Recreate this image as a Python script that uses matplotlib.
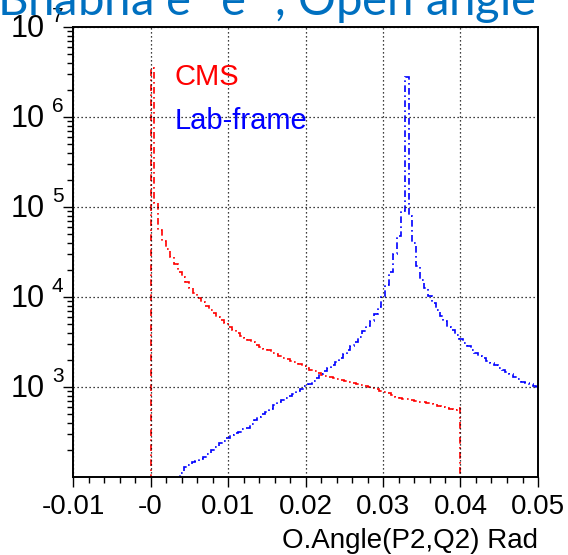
import numpy as np
import matplotlib
matplotlib.use("Agg")
import matplotlib.pyplot as plt
from matplotlib import transforms
from matplotlib.ticker import MultipleLocator, LogLocator, NullFormatter, FixedLocator

plt.rcParams['font.family'] = ['Liberation Sans', 'DejaVu Sans']

# ---- histogram data: opening angle between the two outgoing leptons ----
# CMS frame, bin width 0.0005 rad, from 0 to 0.04
cms_edges = np.arange(0.0, 0.04 + 1e-9, 0.0005)
cms_counts = [
    3.5e6, 1.1e5, 5.5e4, 4.2e4, 3.4e4, 2.8e4, 2.3e4, 1.9e4, 1.65e4, 1.45e4,
    1.26e4, 1.1e4, 9.8e3, 8.8e3, 8.0e3, 7.1e3, 6.6e3, 6.0e3, 5.5e3, 5.1e3,
    4.7e3, 4.3e3, 4.0e3, 3.7e3, 3.5e3, 3.3e3, 3.15e3, 2.95e3, 2.8e3, 2.65e3,
    2.55e3, 2.4e3, 2.3e3, 2.2e3, 2.1e3, 2.05e3, 1.95e3, 1.88e3, 1.8e3, 1.7e3,
    1.62e3, 1.55e3, 1.5e3, 1.42e3, 1.37e3, 1.33e3, 1.3e3, 1.27e3, 1.24e3, 1.2e3,
    1.17e3, 1.14e3, 1.11e3, 1.08e3, 1.05e3, 1.02e3, 1.0e3, 970, 940, 910,
    890, 850, 820, 780, 750, 740, 730, 720, 700, 690,
    680, 670, 660, 640, 615, 600, 580, 570, 560, 580,
]

# Lab frame, bin width 0.0005 rad, from 0.0033 to 0.0503
lab_edges = np.arange(0.0033, 0.0503 + 1e-9, 0.0005)
lab_counts = [
    98, 112, 128, 136, 146, 150, 160, 168, 182, 198,
    218, 240, 252, 268, 290, 312, 320, 340, 352, 385,
    425, 460, 495, 530, 565, 630, 680, 715, 750, 795,
    845, 895, 950, 1020, 1090, 1170, 1270, 1390, 1490, 1620,
    1760, 1900, 2100, 2300, 2600, 2850, 3150, 3600, 4200, 4800,
    5400, 6400, 7800, 1.0e4, 1.35e4, 1.9e4, 3.0e4, 4.8e4, 9.0e4, 2.8e6,
    8.0e4, 4.0e4, 2.2e4, 1.55e4, 1.25e4, 1.02e4, 8.5e3, 7.2e3, 6.2e3, 5.4e3,
    4.7e3, 4.3e3, 3.8e3, 3.4e3, 3.05e3, 2.85e3, 2.6e3, 2.4e3, 2.2e3, 2.1e3,
    1.95e3, 1.85e3, 1.75e3, 1.63e3, 1.55e3, 1.45e3, 1.38e3, 1.3e3, 1.22e3, 1.15e3,
    1.12e3, 1.08e3, 1.02e3, 1.0e3,
]

x_ticks = [-0.01, 0.0, 0.01, 0.02, 0.03, 0.04, 0.05]
x_tick_labels = ["-0.01", "-0", "0.01", "0.02", "0.03", "0.04", "0.05"]
y_exponents = [3, 4, 5, 6, 7]

W, H = 568, 555
fig = plt.figure(figsize=(W / 100, H / 100), dpi=100)
ax = fig.add_axes([73 / W, 1 - 477 / H, (538 - 73) / W, (477 - 27) / H])

dash = (0, (4.0, 2.0, 1.0, 2.0))
ax.stairs(cms_counts, cms_edges, baseline=1e-3, color='#ff0000', lw=1.2, linestyle=dash)
ax.stairs(lab_counts, lab_edges, baseline=None, color='#0000ff', lw=1.2, linestyle=dash)

ax.set_yscale('log')
ax.set_xlim(-0.01, 0.05)
ax.set_ylim(100, 1e7)

# grid
ax.grid(True, which='major', linestyle=(0, (1, 2.2)), color='black', lw=0.9)

# ticks
ax.xaxis.set_major_locator(FixedLocator(x_ticks))
ax.set_xticklabels(x_tick_labels)
ax.xaxis.set_minor_locator(MultipleLocator(0.002))
ax.yaxis.set_major_locator(FixedLocator([10.0 ** e for e in y_exponents]))
ax.yaxis.set_minor_locator(LogLocator(base=10, subs=np.arange(2, 10), numticks=20))
ax.yaxis.set_major_formatter(NullFormatter())
ax.yaxis.set_minor_formatter(NullFormatter())
ax.tick_params(which='both', direction='out', top=False, right=False, width=1.0, colors='black')
ax.tick_params(which='major', length=7)
ax.tick_params(which='minor', length=4)
ax.tick_params(axis='x', which='major', labelsize=20, pad=5)
for sp in ax.spines.values():
    sp.set_linewidth(1.4)

# y tick labels as "10" with raised exponent
tr = transforms.blended_transform_factory(fig.transFigure, ax.transData)
for e in y_exponents:
    ax.text(45 / W, 10.0 ** (e - 0.02), "10", transform=tr, ha='right', va='center',
            fontsize=22, clip_on=False)
    ax.text(52 / W, 10.0 ** (e + 0.12), str(e), transform=tr, ha='left', va='center',
            fontsize=15, clip_on=False)

# legend texts
fig.text(175 / W, 1 - 85 / H, "CMS", color='#ff0000', fontsize=21, ha='left', va='baseline')
fig.text(175 / W, 1 - 129 / H, "Lab-frame", color='#0000ff', fontsize=21, ha='left', va='baseline')

# axis title
fig.text(538 / W, 1 - 548 / H, "O.Angle(P2,Q2) Rad", fontsize=20, ha='right', va='baseline')

# slide heading
fig.text(-3 / W, 1 - 16 / H, "Bhabha e$^{+}$e$^{-}$, Open angle", color='#0070c0',
         fontsize=34, family=['Lato', 'DejaVu Sans'], ha='left', va='baseline')

fig.savefig("out.png", dpi=100)
